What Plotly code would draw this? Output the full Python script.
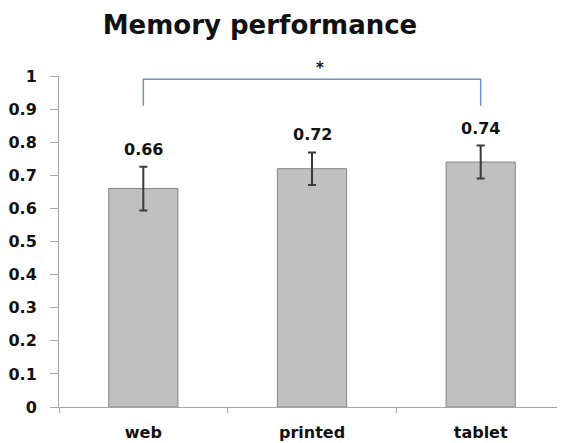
import plotly.graph_objects as go

categories = ["web", "printed", "tablet"]
values = [0.66, 0.72, 0.74]
errors = [0.066, 0.049, 0.05]
labels = ["0.66", "0.72", "0.74"]
y_ticks = [0, 0.1, 0.2, 0.3, 0.4, 0.5, 0.6, 0.7, 0.8, 0.9, 1]
y_tick_text = ["0", "0.1", "0.2", "0.3", "0.4", "0.5", "0.6", "0.7", "0.8", "0.9", "1"]
bracket_from, bracket_to = "web", "tablet"
bracket_low, bracket_high = 0.91, 0.99
sig_label = "*"

FONT = "DejaVu Sans"
# the page body has an 8px margin; the figure is sized to fill the rest of the window
W, H = 557, 435

fig = go.Figure()
fig.add_trace(go.Bar(
    x=categories, y=values, width=0.41,
    marker=dict(color="#c0c0c0", line=dict(color="#868686", width=1)),
    error_y=dict(type="data", array=errors, visible=True, color="#3a3a3a",
                 thickness=2, width=4),
    showlegend=False,
))

# significance bracket
fig.add_trace(go.Scatter(
    x=[bracket_from, bracket_from, bracket_to, bracket_to],
    y=[bracket_low, bracket_high, bracket_high, bracket_low],
    mode="lines", line=dict(color="#6f93c6", width=1.5),
    showlegend=False, hoverinfo="skip", cliponaxis=False,
))

annotations = []
for c, v, e, t in zip(categories, values, errors, labels):
    annotations.append(dict(
        x=c, y=v + e, text=t, showarrow=False, xref="x", yref="y",
        yanchor="bottom", yshift=6,
        font=dict(family=FONT, size=16, color="#111111", weight="bold"),
    ))
annotations.append(dict(
    x="printed", y=bracket_high, text=sig_label, showarrow=False, xref="x", yref="y",
    yanchor="bottom", yshift=0, xshift=8,
    font=dict(family=FONT, size=15, color="#111111", weight="bold"),
))

fig.update_layout(
    width=W, height=H,
    margin=dict(l=51, r=0, t=68, b=36),
    paper_bgcolor="white", plot_bgcolor="white",
    title=dict(text="Memory performance", xref="container", x=252 / W, xanchor="center",
               yref="container", y=1 - 17 / H, yanchor="middle",
               font=dict(family=FONT, size=26, color="#111111", weight="bold")),
    annotations=annotations,
)
fig.update_xaxes(
    range=[-0.5, 2.5], showline=True, linecolor="#a6a6a6", linewidth=1,
    ticks="outside", tickson="boundaries", ticklen=5, tickcolor="#a6a6a6",
    ticklabelstandoff=11, showgrid=False, zeroline=False,
    tickfont=dict(family=FONT, size=16, color="#111111", weight="bold"),
)
fig.update_yaxes(
    range=[0, 1], tickvals=y_ticks, ticktext=y_tick_text,
    showline=True, linecolor="#a6a6a6", linewidth=1,
    ticks="outside", ticklen=8, tickcolor="#a6a6a6",
    ticklabelstandoff=10, showgrid=False, zeroline=False,
    tickfont=dict(family=FONT, size=16, color="#111111", weight="bold"),
)

fig.write_html("out.html")
